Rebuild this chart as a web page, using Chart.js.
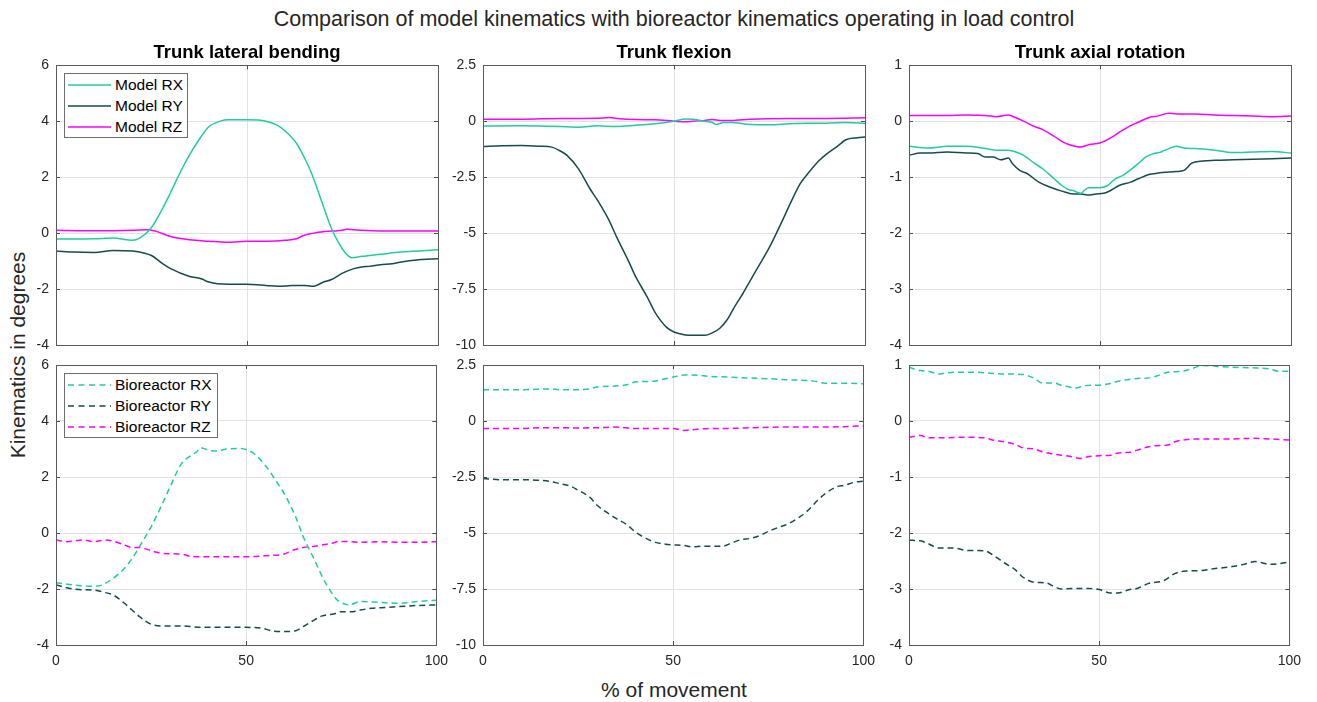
<!DOCTYPE html>
<html>
<head>
<meta charset="utf-8">
<title>Model vs bioreactor kinematics</title>
<script src="https://cdn.jsdelivr.net/npm/chart.js@4.4.1/dist/chart.umd.min.js"></script>
<style>
  body { margin: 0; background: #fff; font-family: "Liberation Sans", Arial, sans-serif; }
  #wrap { position: relative; width: 1317px; height: 702px; overflow: hidden; background: #fff; }
  canvas { position: absolute; }
  .txt { position: absolute; color: #262626; white-space: nowrap; font-size: 21px; transform: translate(-50%, -50%); }
  .legend { position: absolute; box-sizing: border-box; border: 1px solid #6e6e6e; background: #fff; }
  .legend svg { position: absolute; left: 3px; }
  .legend span { position: absolute; left: 50px; font-size: 15.5px; line-height: 18px; color: #000; }
</style>
</head>
<body>
<div id="wrap">
  <div class="txt" style="left:674px; top:19px; font-size:21.5px;">Comparison of model kinematics with bioreactor kinematics operating in load control</div>
  <div class="txt" style="left:18px; top:355px; transform: translate(-50%, -50%) rotate(-90deg);">Kinematics in degrees</div>
  <div class="txt" style="left:674px; top:690px;">% of movement</div>
</div>
<script>
// ---- data ----
const panelTitles = ['Trunk lateral bending', 'Trunk flexion', 'Trunk axial rotation'];
const modelNames = ['Model RX', 'Model RY', 'Model RZ'];
const bioNames = ['Bioreactor RX', 'Bioreactor RY', 'Bioreactor RZ'];

const xTicks = [0, 50, 100];
const latYTicks = [-4, -2, 0, 2, 4, 6];
const flexYTicks = [-10, -7.5, -5, -2.5, 0, 2.5];
const axYTicks = [-4, -3, -2, -1, 0, 1];

// trunk lateral bending
const latModelRX = [[0,-0.21],[10,-0.2],[15,-0.18],[20,-0.26],[22,-0.17],[25,0.2],[28,0.9],[30,1.45],[33,2.3],[35,2.8],[38,3.45],[40,3.8],[43,4.0],[45,4.05],[50,4.05],[55,4.0],[58,3.85],[60,3.65],[63,3.2],[65,2.7],[67,2.1],[70,0.95],[72,0.2],[74,-0.35],[76,-0.75],[77.5,-0.88],[80,-0.83],[85,-0.76],[90,-0.68],[95,-0.64],[100,-0.6]];
const latModelRY = [[0,-0.64],[5,-0.68],[10,-0.69],[15,-0.62],[20,-0.64],[23,-0.71],[25,-0.8],[28,-1.1],[30,-1.27],[35,-1.55],[38,-1.63],[40,-1.75],[45,-1.83],[50,-1.83],[55,-1.87],[58,-1.9],[60,-1.89],[62,-1.87],[65,-1.87],[67,-1.9],[68,-1.88],[70,-1.75],[72,-1.67],[75,-1.43],[78,-1.27],[80,-1.21],[82,-1.19],[85,-1.13],[88,-1.1],[90,-1.04],[95,-0.95],[100,-0.92]];
const latModelRZ = [[0,0.1],[10,0.08],[20,0.1],[24,0.12],[26,0.07],[30,-0.12],[35,-0.24],[40,-0.29],[45,-0.33],[50,-0.29],[55,-0.29],[60,-0.26],[63,-0.2],[65,-0.08],[68,0.01],[72,0.07],[75,0.1],[76,0.14],[78,0.12],[80,0.1],[90,0.07],[100,0.07]];
const latBioRX = [[0,-1.78],[5,-1.86],[10,-1.9],[12,-1.86],[15,-1.62],[18,-1.26],[20,-0.91],[23,-0.25],[25,0.22],[28,1.05],[30,1.65],[33,2.48],[35,2.72],[37,2.9],[38,3.05],[40,2.96],[42,2.93],[45,3.0],[48,3.02],[50,2.98],[52,2.84],[55,2.42],[58,1.83],[60,1.41],[63,0.58],[65,-0.13],[68,-0.97],[70,-1.56],[72,-2.04],[74,-2.4],[76,-2.54],[77,-2.57],[80,-2.45],[85,-2.48],[90,-2.51],[95,-2.45],[100,-2.4]];
const latBioRY = [[0,-1.86],[5,-2.01],[10,-2.04],[13,-2.13],[15,-2.21],[18,-2.51],[20,-2.75],[22,-2.99],[25,-3.26],[28,-3.32],[33,-3.32],[38,-3.37],[45,-3.37],[50,-3.37],[54,-3.4],[57,-3.5],[60,-3.52],[63,-3.49],[65,-3.34],[68,-3.1],[70,-2.96],[73,-2.89],[75,-2.81],[78,-2.81],[80,-2.75],[83,-2.69],[87,-2.66],[90,-2.63],[95,-2.59],[100,-2.57]];
const latBioRZ = [[0,-0.25],[3,-0.31],[7,-0.25],[10,-0.31],[13,-0.25],[15,-0.29],[18,-0.43],[20,-0.52],[22,-0.52],[25,-0.63],[28,-0.73],[33,-0.75],[35,-0.82],[40,-0.85],[45,-0.85],[50,-0.85],[55,-0.81],[60,-0.75],[62,-0.63],[65,-0.52],[68,-0.47],[72,-0.38],[75,-0.3],[80,-0.33],[85,-0.31],[90,-0.33],[95,-0.33],[100,-0.31]];

// trunk flexion
const flexModelRX = [[0,-0.22],[10,-0.21],[20,-0.24],[25,-0.27],[30,-0.21],[35,-0.24],[40,-0.18],[45,-0.12],[50,0],[53,0.1],[55,0.09],[58,0],[60,-0.06],[61,-0.15],[63,-0.06],[65,-0.06],[70,-0.15],[75,-0.16],[80,-0.12],[85,-0.09],[90,-0.09],[95,-0.06],[100,-0.1]];
const flexModelRY = [[0,-1.13],[5,-1.1],[10,-1.09],[15,-1.12],[18,-1.16],[20,-1.31],[22,-1.53],[25,-2.13],[28,-3.02],[30,-3.54],[33,-4.43],[35,-5.18],[38,-6.22],[40,-6.96],[43,-7.86],[45,-8.53],[48,-9.2],[50,-9.42],[53,-9.55],[55,-9.57],[58,-9.57],[60,-9.46],[62,-9.25],[64,-8.85],[66,-8.25],[68,-7.71],[70,-7.11],[72,-6.52],[75,-5.63],[78,-4.58],[80,-3.84],[83,-2.8],[85,-2.35],[88,-1.76],[90,-1.46],[93,-1.09],[95,-0.83],[98,-0.74],[100,-0.71]];
const flexModelRZ = [[0,0.09],[10,0.09],[20,0.12],[30,0.13],[33,0.16],[35,0.12],[40,0.07],[45,0.06],[50,0],[53,-0.03],[55,0],[58,0.03],[60,0.07],[62,0.03],[65,0.03],[70,0.09],[80,0.12],[90,0.12],[100,0.15]];
const flexBioRX = [[0,1.4],[10,1.4],[18,1.43],[20,1.4],[25,1.4],[28,1.43],[30,1.52],[35,1.56],[38,1.63],[40,1.74],[45,1.78],[48,1.89],[50,1.96],[53,2.05],[55,2.05],[60,1.99],[65,1.96],[70,1.92],[75,1.89],[80,1.84],[85,1.81],[87,1.78],[90,1.69],[95,1.69],[100,1.66]];
const flexBioRY = [[0,-2.57],[5,-2.62],[10,-2.62],[15,-2.65],[18,-2.71],[20,-2.79],[23,-2.91],[25,-3.09],[28,-3.39],[30,-3.76],[33,-4.13],[35,-4.35],[38,-4.65],[40,-4.95],[43,-5.25],[45,-5.4],[48,-5.5],[50,-5.53],[53,-5.56],[55,-5.62],[58,-5.59],[60,-5.59],[63,-5.59],[65,-5.47],[68,-5.29],[70,-5.25],[73,-5.1],[75,-4.93],[78,-4.73],[80,-4.61],[83,-4.31],[85,-4.06],[88,-3.54],[90,-3.24],[93,-2.94],[95,-2.87],[98,-2.72],[100,-2.69]];
const flexBioRZ = [[0,-0.33],[5,-0.34],[10,-0.34],[15,-0.3],[20,-0.3],[25,-0.31],[30,-0.3],[35,-0.27],[40,-0.34],[45,-0.33],[50,-0.34],[53,-0.42],[55,-0.39],[60,-0.33],[65,-0.33],[70,-0.3],[80,-0.27],[90,-0.27],[100,-0.22]];

// trunk axial rotation
const axModelRX = [[0,-0.45],[5,-0.48],[10,-0.45],[15,-0.45],[20,-0.49],[23,-0.52],[26,-0.52],[28,-0.55],[30,-0.61],[33,-0.76],[35,-0.85],[38,-1.03],[40,-1.15],[42,-1.23],[43,-1.24],[44,-1.27],[45,-1.29],[46,-1.23],[47,-1.19],[50,-1.19],[52,-1.15],[54,-1.03],[56,-0.97],[58,-0.87],[60,-0.76],[62,-0.64],[64,-0.58],[66,-0.55],[68,-0.49],[70,-0.45],[72,-0.48],[75,-0.49],[80,-0.52],[83,-0.55],[85,-0.56],[90,-0.55],[95,-0.54],[100,-0.57]];
const axModelRY = [[0,-0.61],[3,-0.57],[5,-0.57],[10,-0.55],[15,-0.57],[18,-0.58],[20,-0.64],[22,-0.64],[24,-0.69],[26,-0.66],[27,-0.75],[29,-0.88],[31,-0.94],[34,-1.09],[37,-1.18],[40,-1.25],[43,-1.3],[45,-1.3],[47,-1.32],[49,-1.3],[51,-1.29],[53,-1.23],[55,-1.15],[58,-1.09],[60,-1.03],[63,-0.95],[65,-0.93],[70,-0.9],[72,-0.88],[74,-0.75],[77,-0.71],[80,-0.7],[85,-0.69],[90,-0.68],[95,-0.67],[100,-0.66]];
const axModelRZ = [[0,0.1],[5,0.1],[10,0.1],[15,0.11],[20,0.1],[23,0.08],[26,0.11],[28,0.06],[30,0],[33,-0.1],[35,-0.15],[38,-0.27],[40,-0.36],[42,-0.42],[45,-0.46],[47,-0.42],[50,-0.39],[53,-0.29],[55,-0.2],[58,-0.08],[60,-0.02],[63,0.07],[65,0.09],[68,0.14],[70,0.13],[75,0.13],[80,0.11],[85,0.1],[90,0.09],[95,0.08],[100,0.09]];
const axBioRX = [[0,0.96],[3,0.9],[5,0.89],[8,0.84],[10,0.86],[12,0.87],[18,0.87],[20,0.86],[25,0.84],[30,0.83],[33,0.76],[35,0.68],[38,0.68],[40,0.64],[42,0.61],[44,0.59],[46,0.63],[50,0.64],[53,0.67],[55,0.71],[60,0.76],[63,0.77],[65,0.8],[68,0.87],[72,0.89],[75,0.95],[77,0.99],[80,0.98],[85,0.96],[90,0.95],[95,0.93],[97,0.89],[100,0.89]];
const axBioRY = [[0,-2.13],[3,-2.14],[5,-2.19],[8,-2.27],[12,-2.27],[15,-2.31],[20,-2.32],[22,-2.39],[25,-2.53],[28,-2.66],[30,-2.79],[33,-2.88],[36,-2.89],[38,-2.95],[40,-3.0],[43,-2.99],[47,-2.99],[50,-3.01],[53,-3.07],[55,-3.07],[58,-3.01],[60,-2.99],[63,-2.9],[67,-2.85],[70,-2.72],[73,-2.68],[77,-2.67],[80,-2.64],[85,-2.6],[88,-2.56],[91,-2.51],[95,-2.56],[100,-2.52]];
const axBioRZ = [[0,-0.29],[3,-0.26],[5,-0.3],[8,-0.3],[15,-0.29],[20,-0.3],[22,-0.34],[25,-0.37],[28,-0.42],[30,-0.48],[33,-0.5],[35,-0.55],[38,-0.59],[40,-0.61],[43,-0.64],[45,-0.67],[47,-0.64],[50,-0.62],[53,-0.61],[55,-0.57],[58,-0.56],[60,-0.52],[63,-0.46],[65,-0.44],[68,-0.43],[70,-0.37],[73,-0.33],[75,-0.32],[80,-0.32],[85,-0.32],[90,-0.31],[95,-0.32],[100,-0.34]];

// ---- styling ----
const colors = ['#22cc9e', '#164b4b', '#ff00ff'];
const FONT = '"Liberation Sans", Arial, sans-serif';
const colLeft = [56, 483, 909];
const rowTop = [65, 365];
const plotW = 382, plotH = 280;
const PAD = 18; // room for the overhanging tick labels

const panels = [
  { row: 0, col: 0, series: [latModelRX, latModelRY, latModelRZ], names: modelNames, dashed: false, yTicks: latYTicks, legend: true },
  { row: 0, col: 1, series: [flexModelRX, flexModelRY, flexModelRZ], names: modelNames, dashed: false, yTicks: flexYTicks },
  { row: 0, col: 2, series: [axModelRX, axModelRY, axModelRZ], names: modelNames, dashed: false, yTicks: axYTicks },
  { row: 1, col: 0, series: [latBioRX, latBioRY, latBioRZ], names: bioNames, dashed: true, yTicks: latYTicks, legend: true },
  { row: 1, col: 1, series: [flexBioRX, flexBioRY, flexBioRZ], names: bioNames, dashed: true, yTicks: flexYTicks },
  { row: 1, col: 2, series: [axBioRX, axBioRY, axBioRZ], names: bioNames, dashed: true, yTicks: axYTicks }
];

// box around the axes plus short inward tick marks (MATLAB look)
const axesBox = {
  id: 'axesBox',
  afterDatasetsDraw(chart) {
    const { ctx, chartArea: a, scales } = chart;
    ctx.save();
    ctx.strokeStyle = '#4a4a4a';
    ctx.lineWidth = 1;
    ctx.beginPath();
    scales.y.ticks.forEach(t => {
      const py = Math.round(scales.y.getPixelForValue(t.value)) + 0.5;
      ctx.moveTo(a.left, py); ctx.lineTo(a.left + 4, py);
      ctx.moveTo(a.right, py); ctx.lineTo(a.right - 4, py);
    });
    scales.x.ticks.forEach(t => {
      const px = Math.round(scales.x.getPixelForValue(t.value)) + 0.5;
      ctx.moveTo(px, a.bottom); ctx.lineTo(px, a.bottom - 4);
      ctx.moveTo(px, a.top); ctx.lineTo(px, a.top + 4);
    });
    ctx.stroke();
    ctx.strokeStyle = '#5a5a5a';
    ctx.strokeRect(Math.round(a.left) + 0.5, Math.round(a.top) + 0.5, Math.round(a.right - a.left), Math.round(a.bottom - a.top));
    ctx.restore();
  }
};

const wrap = document.getElementById('wrap');

panels.forEach(p => {
  const top = p.row === 0;
  const cv = document.createElement('canvas');
  const w = 50 + plotW + 18;
  const h = top ? 30 + plotH + PAD : PAD + plotH + 30;
  cv.width = w; cv.height = h;
  cv.style.left = (colLeft[p.col] - 50) + 'px';
  cv.style.top = (top ? rowTop[0] - 30 : rowTop[1] - PAD) + 'px';
  cv.style.width = w + 'px'; cv.style.height = h + 'px';
  wrap.appendChild(cv);

  const datasets = p.series.map((s, i) => ({
    label: p.names[i],
    data: s.map(([x, y]) => ({ x, y })),
    borderColor: colors[i],
    backgroundColor: colors[i],
    borderWidth: 1.5,
    borderDash: p.dashed ? [6, 4] : [],
    pointRadius: 0,
    cubicInterpolationMode: 'monotone',
    fill: false
  }));

  new Chart(cv, {
    type: 'line',
    data: { datasets },
    options: {
      responsive: false,
      animation: false,
      devicePixelRatio: 1,
      layout: { padding: { top: top ? 0 : PAD, right: 18, bottom: top ? PAD : 0, left: 0 } },
      plugins: {
        legend: { display: false },
        tooltip: { enabled: false },
        title: {
          display: top,
          fullSize: false,
          text: top ? panelTitles[p.col] : '',
          color: '#000',
          font: { family: FONT, size: 18.5, weight: 'bold', lineHeight: 1.2 },
          padding: { top: 7, bottom: 1 }
        }
      },
      scales: {
        x: {
          type: 'linear', min: 0, max: 100,
          afterBuildTicks: s => { s.ticks = xTicks.map(v => ({ value: v })); },
          afterFit: s => { s.height = top ? 0 : 30; },
          ticks: { display: !top, color: '#262626', padding: 8, font: { family: FONT, size: 14 } },
          grid: { color: '#e2e2e2', drawTicks: false },
          border: { display: false }
        },
        y: {
          type: 'linear', min: p.yTicks[0], max: p.yTicks[p.yTicks.length - 1],
          afterBuildTicks: s => { s.ticks = p.yTicks.map(v => ({ value: v })); },
          afterFit: s => { s.width = 50; },
          ticks: { color: '#262626', padding: 7, font: { family: FONT, size: 14 }, callback: v => String(v) },
          grid: { color: '#e2e2e2', drawTicks: false },
          border: { display: false }
        }
      }
    },
    plugins: [axesBox]
  });

  if (p.legend) {
    const lg = document.createElement('div');
    lg.className = 'legend';
    lg.style.left = '64px';
    lg.style.top = (top ? 73 : 373) + 'px';
    lg.style.width = (top ? 124 : 154) + 'px';
    lg.style.height = '65px';
    p.names.forEach((name, i) => {
      const cy = 11 + 21 * i;
      const svg = document.createElementNS('http://www.w3.org/2000/svg', 'svg');
      svg.setAttribute('width', '43'); svg.setAttribute('height', '10');
      svg.style.top = (cy - 5) + 'px';
      const ln = document.createElementNS('http://www.w3.org/2000/svg', 'line');
      ln.setAttribute('x1', '0'); ln.setAttribute('x2', '43');
      ln.setAttribute('y1', '5'); ln.setAttribute('y2', '5');
      ln.setAttribute('stroke', colors[i]);
      ln.setAttribute('stroke-width', '1.5');
      if (p.dashed) ln.setAttribute('stroke-dasharray', '6 4.5');
      svg.appendChild(ln);
      lg.appendChild(svg);
      const sp = document.createElement('span');
      sp.textContent = name;
      sp.style.top = (cy - 9) + 'px';
      lg.appendChild(sp);
    });
    wrap.appendChild(lg);
  }
});
</script>
</body>
</html>
